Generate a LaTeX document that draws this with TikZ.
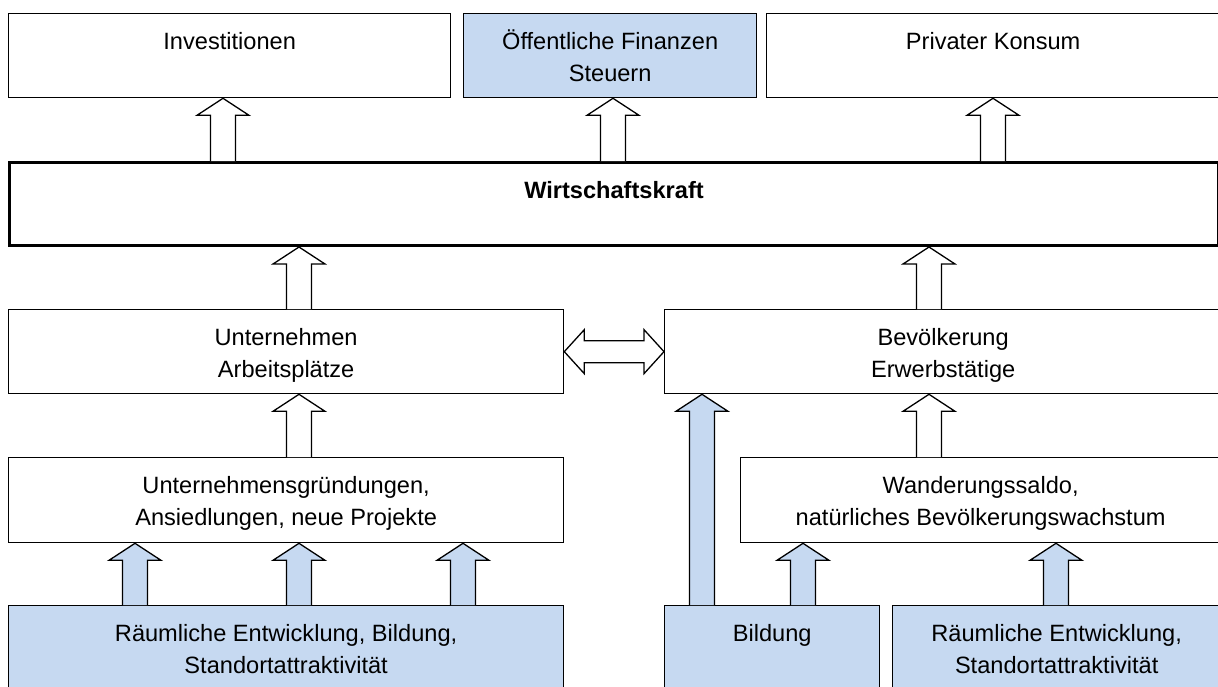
\documentclass[tikz,border=0pt]{standalone}
\usepackage{fontspec}
\setmainfont{Liberation Sans}
\usetikzlibrary{calc}
\definecolor{hellblau}{RGB}{198,217,241}

% text block of a box, top aligned: width, height, text
\newcommand{\boxtext}[3]{\parbox[t][#2pt][t]{#1pt}{\centering\rule{0pt}{36pt}#3}}

% block arrow upwards: [fill], x, from node, to node
\newcommand{\blkup}[4][white]{%
  \filldraw[blk, fill=#1] let \p1=(#3.north), \p2=(#4.south) in
    (#2pt-12.5pt,\y1) -- (#2pt-12.5pt,\y2-17pt) -- (#2pt-26pt,\y2-17pt) -- (#2pt,\y2)
    -- (#2pt+26pt,\y2-17pt) -- (#2pt+12.5pt,\y2-17pt) -- (#2pt+12.5pt,\y1);}

% block arrow both ways, left node to right node
\newcommand{\blklr}[2]{%
  \filldraw[blk, fill=white] let \p1=(#1.east), \p2=(#2.west) in
    (\x1,\y1) -- (\x1+20pt,\y1+22pt) -- (\x1+20pt,\y1+11pt) -- (\x2-20pt,\y1+11pt)
    -- (\x2-20pt,\y1+22pt) -- (\x2,\y1) -- (\x2-20pt,\y1-22pt) -- (\x2-20pt,\y1-11pt)
    -- (\x1+20pt,\y1-11pt) -- (\x1+20pt,\y1-22pt) -- cycle;}

\begin{document}
\begin{tikzpicture}[x=1pt, y=-1pt,
    box/.style={draw, fill=white, anchor=north west, inner sep=0pt, line width=1.3pt},
    blk/.style={line width=1.3pt},
    font=\fontsize{23.6}{31.5}\selectfont]
	\useasboundingbox (0,0) rectangle (1218,686);
	\clip (0,0) rectangle (1218,686);

	% top row
	\node[box] (inv) at (8,13) {\boxtext{442}{84}{Investitionen}};
	\node[box, fill=hellblau] (oef) at (463,13) {\boxtext{293}{84}{Öffentliche Finanzen\\Steuern}};
	\node[box] (kons) at (766,13) {\boxtext{453}{84}{Privater Konsum}};

	\node[box, line width=3pt] (wk) at (8,161) {\boxtext{1209}{83}{\bfseries Wirtschaftskraft}};

	\node[box] (unt) at (8,309) {\boxtext{555}{84}{Unternehmen\\Arbeitsplätze}};
	\node[box] (bev) at (664,309) {\boxtext{557}{84}{Bevölkerung\\Erwerbstätige}};

	\node[box] (gru) at (8,457) {\boxtext{555}{85}{Unternehmensgründungen,\\Ansiedlungen, neue Projekte}};
	\node[box] (wan) at (740,457) {\boxtext{480}{85}{Wanderungssaldo,\\natürliches Bevölkerungswachstum}};

	% bottom row
	\node[box, fill=hellblau] (rae1) at (8,605) {\boxtext{555}{85}{Räumliche Entwicklung, Bildung,\\Standortattraktivität}};
	\node[box, fill=hellblau] (bil) at (664,605) {\boxtext{215}{85}{Bildung}};
	\node[box, fill=hellblau] (rae2) at (892,605) {\boxtext{328}{85}{Räumliche Entwicklung,\\Standortattraktivität}};

	% arrows
	\blkup{223}{wk}{inv}
	\blkup{613}{wk}{oef}
	\blkup{993}{wk}{kons}
	\blkup{299}{unt}{wk}
	\blkup{929}{bev}{wk}
	\blkup{299}{gru}{unt}
	\blkup{929}{wan}{bev}
	\blklr{unt}{bev}
	\blkup[hellblau]{135}{rae1}{gru}
	\blkup[hellblau]{299}{rae1}{gru}
	\blkup[hellblau]{463}{rae1}{gru}
	\blkup[hellblau]{702}{bil}{bev}
	\blkup[hellblau]{803}{bil}{wan}
	\blkup[hellblau]{1056}{rae2}{wan}
\end{tikzpicture}
\end{document}
